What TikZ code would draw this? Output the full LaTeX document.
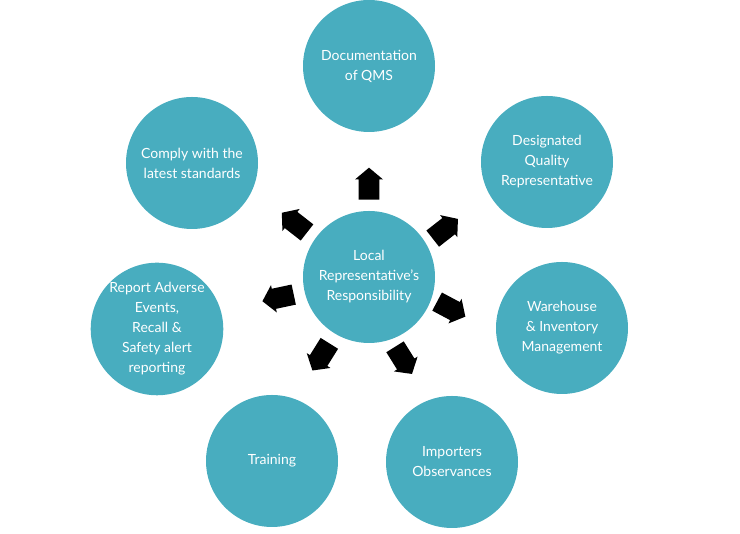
\documentclass[tikz,border=0pt]{standalone}
\usepackage{fontspec}
\setmainfont{Lato}
\usepackage{tikz}
\usetikzlibrary{shapes.arrows}

\definecolor{qmsteal}{HTML}{48ADBF}

\tikzset{
  duty/.style={circle, fill=qmsteal, minimum size=99pt, inner sep=0pt,
    text=white, align=center, font=\fontsize{10.5}{15}\selectfont},
  pointer/.style={single arrow, fill=black, draw=none, minimum height=24pt,
    inner sep=7.5pt, single arrow head extend=2.8pt,
    single arrow tip angle=100}
}

\begin{document}
\begin{tikzpicture}[x=0.75pt, y=0.75pt]
        \useasboundingbox (0,0) rectangle (740,534);

        %Centre
        \node [duty] (ctr) at (369,257) {Local\\Representative’s\\Responsibility};

        %Duties
        \node [duty] (doc)    at (369,468) {Documentation\\of QMS};
        \node [duty] (desig)  at (547,372) {Designated\\Quality\\Representative};
        \node [duty] (ware)   at (562,206) {Warehouse\\\& Inventory\\Management};
        \node [duty] (import) at (452,72)  {Importers\\Observances};
        \node [duty] (train)  at (272,73)  {Training};
        \node [duty] (report) at (157,205) {Report Adverse\\Events,\\Recall \&\\Safety alert\\reporting};
        \node [duty] (comply) at (192,371) {Comply with the\\latest standards};

        %Arrows
        \node [pointer, rotate=90]   (a-doc)    at ([shift={(90:89)}]ctr)   {};
        \node [pointer, rotate=38]   (a-desig)  at ([shift={(32:86)}]ctr)   {};
        \node [pointer, rotate=-28]  (a-ware)   at ([shift={(-21:84)}]ctr)  {};
        \node [pointer, rotate=-58]  (a-import) at ([shift={(-68:86)}]ctr)  {};
        \node [pointer, rotate=-122] (a-train)  at ([shift={(-121:89)}]ctr) {};
        \node [pointer, rotate=192]  (a-report) at ([shift={(193:89)}]ctr)  {};
        \node [pointer, rotate=142]  (a-comply) at ([shift={(144:88)}]ctr)  {};
\end{tikzpicture}
\end{document}
